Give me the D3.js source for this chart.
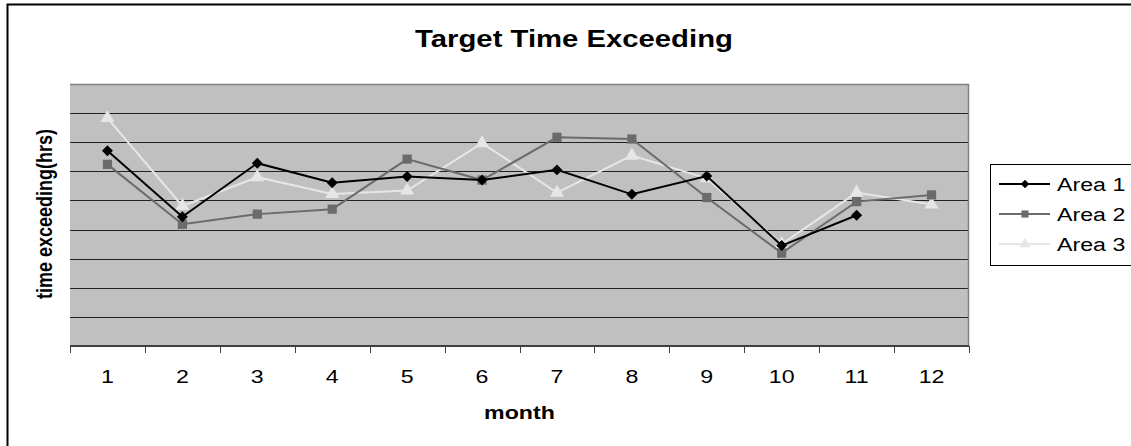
<!DOCTYPE html>
<html>
<head>
<meta charset="utf-8">
<script src="https://cdn.jsdelivr.net/npm/d3@7"></script>
<style>
  body { margin: 0; background: #fff; }
  text { font-family: "Liberation Sans", Arial, sans-serif; }
</style>
</head>
<body>
<div id="chart"></div>
<script>
// data (no y labels shown, so units are gridline steps)
const months = [1, 2, 3, 4, 5, 6, 7, 8, 9, 10, 11, 12]
const area1 = [6.71, 4.44, 6.28, 5.61, 5.82, 5.70, 6.05, 5.21, 5.84, 3.45, 4.49, null]
const area2 = [6.24, 4.18, 4.53, 4.70, 6.42, 5.70, 7.17, 7.11, 5.10, 3.19, 4.96, 5.19]
const area3 = [7.83, 4.81, 5.80, 5.22, 5.34, 6.97, 5.27, 6.54, 5.76, 3.50, 5.27, 4.86]
const seriesNames = ["Area 1", "Area 2", "Area 3"]
const yTicks = [0, 1, 2, 3, 4, 5, 6, 7, 8, 9]

const dims = {
    width: 1131,
    height: 446,
    margin: { top: 84, right: 162, bottom: 100, left: 70 }
}
dims.boundedWidth = dims.width - dims.margin.left - dims.margin.right
dims.boundedHeight = dims.height - dims.margin.top - dims.margin.bottom

// the source picture's lettering is a bit wide, so text gets stretched
const textStretch = 1.22

const svg = d3.select("#chart").append("svg")
    .attr("width", dims.width)
    .attr("height", dims.height)

// outer chart frame (runs off the right/bottom edge)
svg.append("rect")
    .attr("x", 7.5).attr("y", 4.5)
    .attr("width", 1140).attr("height", 460)
    .attr("fill", "#fff")
    .attr("stroke", "#000").attr("stroke-width", 2)

const bounds = svg.append("g")
    .attr("transform", `translate(${dims.margin.left},${dims.margin.top})`)

const xScale = d3.scaleBand()
    .domain(months)
    .range([0, dims.boundedWidth])

const yScale = d3.scaleLinear()
    .domain([0, 9])
    .range([dims.boundedHeight, 0])

// plot area
bounds.append("rect")
    .attr("width", dims.boundedWidth)
    .attr("height", dims.boundedHeight)
    .attr("fill", "#c0c0c0")

bounds.append("g")
    .selectAll("line")
    .data(yTicks.slice(1, -1))
    .join("line")
    .attr("x1", 0).attr("x2", dims.boundedWidth)
    .attr("y1", d => Math.round(yScale(d)) + 0.5)
    .attr("y2", d => Math.round(yScale(d)) + 0.5)
    .attr("stroke", "#222").attr("stroke-width", 1)

// top + right border of plot
bounds.append("path")
    .attr("d", `M0,0.5H${dims.boundedWidth - 0.5}V${dims.boundedHeight}`)
    .attr("fill", "none")
    .attr("stroke", "#808080").attr("stroke-width", 1.5)

// x axis: ticks at band edges
const xAxis = bounds.append("g")
    .attr("transform", `translate(0,${dims.boundedHeight})`)

xAxis.append("line")
    .attr("x1", 0).attr("x2", dims.boundedWidth)
    .attr("stroke", "#404040").attr("stroke-width", 2)

xAxis.selectAll(".tick")
    .data(months.map(m => xScale(m)).concat([dims.boundedWidth]))
    .join("line")
    .attr("class", "tick")
    .attr("x1", d => Math.round(d) + 0.5).attr("x2", d => Math.round(d) + 0.5)
    .attr("y1", 0).attr("y2", 7)
    .attr("stroke", "#404040").attr("stroke-width", 1)

xAxis.selectAll(".label")
    .data(months)
    .join("text")
    .attr("class", "label")
    .attr("transform", d => `translate(${xScale(d) + xScale.bandwidth() / 2},37) scale(${textStretch},1)`)
    .attr("text-anchor", "middle")
    .attr("font-size", 19)
    .text(d => d)

// titles
svg.append("text")
    .attr("transform", `translate(574,47) scale(${textStretch},1)`)
    .attr("text-anchor", "middle")
    .attr("font-size", 24).attr("font-weight", "bold")
    .text("Target Time Exceeding")

svg.append("text")
    .attr("transform", `translate(${dims.margin.left + dims.boundedWidth / 2},419) scale(${textStretch},1)`)
    .attr("text-anchor", "middle")
    .attr("font-size", 19).attr("font-weight", "bold")
    .text("month")

svg.append("text")
    .attr("transform", `translate(52,214) rotate(-90) scale(1,${textStretch})`)
    .attr("text-anchor", "middle")
    .attr("font-size", 18).attr("font-weight", "bold")
    .text("time exceeding(hrs)")

// series
const diamond = {
    draw(ctx, size) {
        const r = Math.sqrt(size / 2)
        ctx.moveTo(0, -r); ctx.lineTo(r, 0); ctx.lineTo(0, r); ctx.lineTo(-r, 0); ctx.closePath()
    }
}
const styles = [
    { color: "#000000", symbol: diamond, size: 60 },
    { color: "#6b6b6b", symbol: d3.symbolSquare, size: 85 },
    { color: "#e6e6e6", symbol: d3.symbolTriangle, size: 85 }
]
const seriesData = [area1, area2, area3].map((vals, i) => ({
    name: seriesNames[i],
    style: styles[i],
    points: months.map((m, j) => ({ month: m, value: vals[j] }))
        .filter(d => d.value != null)
}))

const xCenter = d => xScale(d.month) + xScale.bandwidth() / 2
const lineGenerator = d3.line()
    .x(xCenter)
    .y(d => yScale(d.value))

// draw lines in reverse so Area 1 ends up on top
const series = bounds.selectAll(".series")
    .data(seriesData.slice().reverse())
    .join("g")
    .attr("class", "series")

series.append("path")
    .attr("d", d => lineGenerator(d.points))
    .attr("fill", "none")
    .attr("stroke", d => d.style.color)
    .attr("stroke-width", 2)

series.selectAll(".marker")
    .data(d => d.points.map(p => ({ ...p, style: d.style })))
    .join("path")
    .attr("class", "marker")
    .attr("transform", d => `translate(${xCenter(d)},${yScale(d.value)})`)
    .attr("d", d => d3.symbol().type(d.style.symbol).size(d.style.size)())
    .attr("fill", d => d.style.color)

// legend
const legend = svg.append("g")
    .attr("transform", "translate(990,164)")

legend.append("rect")
    .attr("x", 0.5).attr("y", 0.5)
    .attr("width", 141).attr("height", 101)
    .attr("fill", "#fff")
    .attr("stroke", "#000").attr("stroke-width", 1)

const legendItems = legend.selectAll(".item")
    .data(seriesData)
    .join("g")
    .attr("class", "item")
    .attr("transform", (d, i) => `translate(0,${20 + i * 30})`)

legendItems.append("line")
    .attr("x1", 9).attr("x2", 60)
    .attr("stroke", d => d.style.color).attr("stroke-width", 2)

legendItems.append("path")
    .attr("transform", "translate(35,0)")
    .attr("d", d => d3.symbol().type(d.style.symbol).size(d.style.size * 0.6)())
    .attr("fill", d => d.style.color)

legendItems.append("text")
    .attr("transform", `translate(67,7) scale(${textStretch},1)`)
    .attr("font-size", 19)
    .text(d => d.name)
</script>
</body>
</html>
